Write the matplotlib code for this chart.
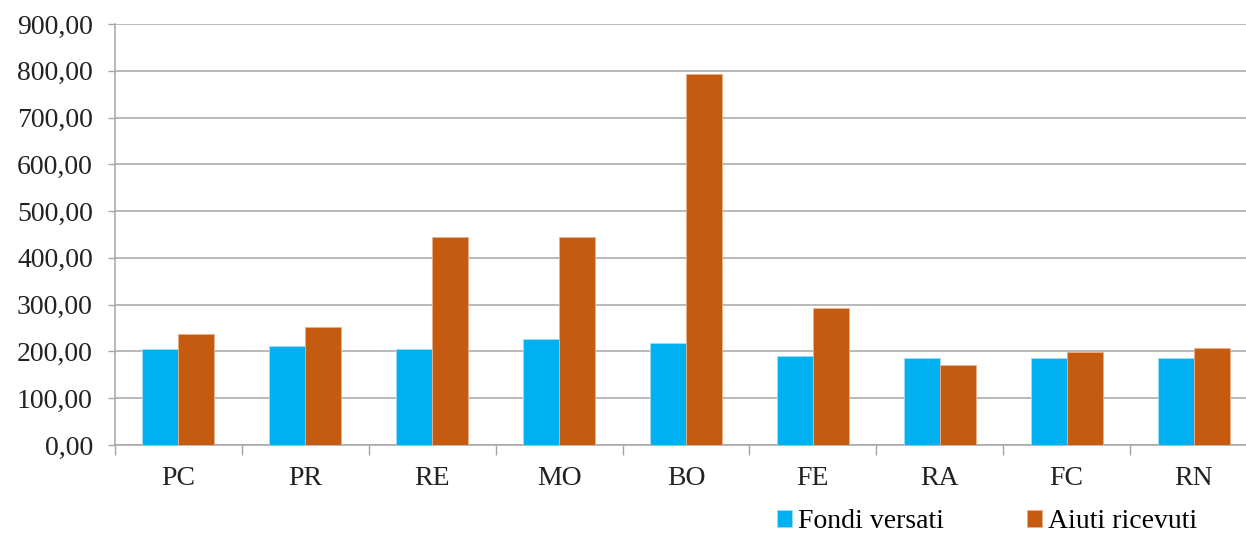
import matplotlib
matplotlib.use("Agg")
import matplotlib.pyplot as plt
import numpy as np
from matplotlib.ticker import FuncFormatter, MultipleLocator, FixedLocator

categories = ["PC", "PR", "RE", "MO", "BO", "FE", "RA", "FC", "RN"]
fondi_versati = [206, 211, 206, 226, 217, 191, 186, 186, 186]
aiuti_ricevuti = [238, 253, 444, 444, 793, 292, 172, 199, 207]
series_names = ["Fondi versati", "Aiuti ricevuti"]

plt.rcParams['font.family'] = ['Liberation Serif', 'DejaVu Serif']

fig = plt.figure(figsize=(12.46, 5.36), dpi=100)
ax = fig.add_axes([115/1246, 1-445/536, (1257-115)/1246, (445-24)/536])

x = np.arange(len(categories))
w = 0.284
blue = "#00B0F0"
orange = "#C55A11"
ax.bar(x - w/2, fondi_versati, w, color=blue, edgecolor="#9fdcf5", linewidth=0.6, label=series_names[0], zorder=3)
ax.bar(x + w/2, aiuti_ricevuti, w, color=orange, edgecolor="#e8b08a", linewidth=0.6, label=series_names[1], zorder=3)

ax.set_xlim(-0.5, len(categories) - 0.5)
ax.set_ylim(0, 900)
ax.yaxis.set_major_locator(MultipleLocator(100))
ax.yaxis.set_major_formatter(FuncFormatter(lambda v, p: f"{v:.2f}".replace(".", ",")))
ax.grid(axis="y", color="#a6a6a6", linewidth=1.1, zorder=0)

ax.set_xticks(x)
ax.set_xticklabels(categories)
ax.xaxis.set_minor_locator(FixedLocator(np.arange(-0.5, len(categories) + 0.5, 1)))
ax.tick_params(axis="x", which="major", length=0, pad=15, labelsize=20, colors="#222222")
ax.tick_params(axis="x", which="minor", length=7, width=1, color="#a6a6a6", direction="out")
ax.tick_params(axis="y", length=5, width=1, color="#a6a6a6", pad=11, labelsize=20, labelcolor="#222222")

for s in ["top", "right"]:
    ax.spines[s].set_visible(False)
ax.spines["left"].set_color("#a6a6a6")
ax.spines["bottom"].set_color("#a6a6a6")
ax.spines["left"].set_linewidth(1.1)
ax.spines["bottom"].set_linewidth(1.1)

fig.legend(loc="center", bbox_to_anchor=(987/1246, 1-522/536), ncol=2, frameon=False,
           fontsize=20, handlelength=0.55, handleheight=0.55, handletextpad=0.2,
           columnspacing=3.0, borderpad=0)

fig.savefig("out.png", dpi=100)
